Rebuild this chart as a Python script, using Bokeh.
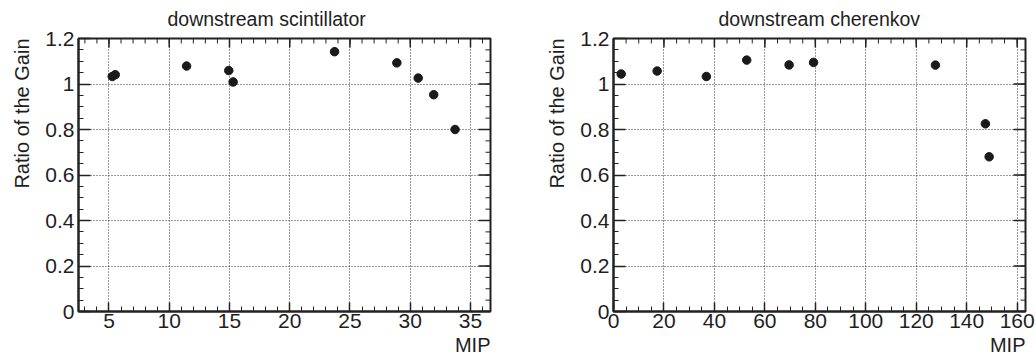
import math
from bokeh.plotting import figure
from bokeh.layouts import row
from bokeh.models import Range1d, FixedTicker, Title, CustomJSTickFormatter
from bokeh.embed import file_html
from bokeh.resources import INLINE

# ---- data ----
scint_mip = [5.27, 5.52, 11.44, 14.94, 15.30, 23.72, 28.89, 30.66, 31.95, 33.72]
scint_ratio = [1.033, 1.041, 1.079, 1.059, 1.009, 1.142, 1.093, 1.026, 0.953, 0.800]

cher_mip = [3.05, 17.3, 36.8, 52.8, 69.6, 79.3, 127.6, 147.4, 148.9]
cher_ratio = [1.044, 1.057, 1.033, 1.105, 1.084, 1.095, 1.083, 0.825, 0.680]

titles = ["downstream scintillator", "downstream cherenkov"]
x_label = "MIP"
y_label = "Ratio of the Gain"

y_ticks = [0, 0.2, 0.4, 0.6, 0.8, 1, 1.2]
y_minor = [i * 0.05 for i in range(25)]
scint_xticks = [5, 10, 15, 20, 25, 30, 35]
scint_xminor = list(range(3, 37))
cher_xticks = [0, 20, 40, 60, 80, 100, 120, 140, 160]
cher_xminor = list(range(0, 165, 5))

FONT = "Liberation Sans"
TXT = "#1e1e1e"
LINE = "#222222"

fmt_code = "return String(Math.round(tick*100)/100);"


def make_panel(xs, ys, xr, xticks, xminor, title, width, bl, br, title_off):
    yr = (0, 1.2)
    p = figure(width=width, height=364, x_range=Range1d(*xr), y_range=Range1d(*yr),
               output_backend="svg", toolbar_location=None,
               min_border_left=bl, min_border_right=br,
               min_border_top=38, min_border_bottom=53)
    p.background_fill_color = "white"
    p.border_fill_color = "white"
    p.outline_line_color = LINE
    p.outline_line_width = 2

    xt = FixedTicker(ticks=xticks, minor_ticks=xminor)
    yt = FixedTicker(ticks=y_ticks, minor_ticks=y_minor)

    for ax, tk, maj in ((p.xaxis[0], xt, 9), (p.yaxis[0], yt, 12)):
        ax.ticker = tk
        ax.formatter = CustomJSTickFormatter(code=fmt_code)
        ax.major_tick_in = maj
        ax.major_tick_out = 0
        ax.minor_tick_in = 5
        ax.minor_tick_out = 0
        ax.axis_line_width = 2
        ax.axis_line_color = LINE
        ax.major_tick_line_color = LINE
        ax.minor_tick_line_color = LINE
        ax.major_tick_line_width = 1.5
        ax.minor_tick_line_width = 1
        ax.major_label_text_font = FONT
        ax.major_label_text_font_size = "21px"
        ax.major_label_text_color = TXT
    p.xaxis[0].major_label_standoff = 2
    p.yaxis[0].major_label_standoff = 4

    for g in (p.xgrid[0], p.ygrid[0]):
        g.grid_line_color = "#333333"
        g.grid_line_dash = "1 2"
        g.grid_line_width = 1

    # mirrored ticks on top and right frame edges (outer half clipped by the frame)
    p.scatter(xticks, [yr[1]] * len(xticks), marker="dash", angle=math.pi / 2,
              size=18, line_color=LINE, line_width=1.5)
    p.scatter(xminor, [yr[1]] * len(xminor), marker="dash", angle=math.pi / 2,
              size=10, line_color=LINE, line_width=1)
    p.scatter([xr[1]] * len(y_ticks), y_ticks, marker="dash", angle=0,
              size=24, line_color=LINE, line_width=1.5)
    p.scatter([xr[1]] * len(y_minor), y_minor, marker="dash", angle=0,
              size=10, line_color=LINE, line_width=1)

    p.scatter(xs, ys, size=8.5, color="#1a1a1a", marker="circle")

    # titles
    p.title.text = title
    p.title.align = "left"
    p.title.offset = title_off
    p.title.text_font = FONT
    p.title.text_font_size = "19.5px"
    p.title.text_font_style = "normal"
    p.title.text_color = TXT
    p.title.vertical_align = "top"
    p.title.standoff = 14

    p.add_layout(Title(text=y_label, align="right", offset=0, text_font=FONT,
                       text_font_size="20px", text_font_style="normal",
                       text_color=TXT, vertical_align="top", standoff=16), "left")
    p.add_layout(Title(text=x_label, align="right", offset=0, text_font=FONT,
                       text_font_size="20px", text_font_style="normal",
                       text_color=TXT, vertical_align="top", standoff=7), "below")
    return p


p1 = make_panel(scint_mip, scint_ratio, (2.47, 36.66), scint_xticks, scint_xminor,
                titles[0], 518, 78, 28, 89)
p2 = make_panel(cher_mip, cher_ratio, (0, 163.3), cher_xticks, cher_xminor,
                titles[1], 518, 95, 11, 105)

layout = row(p1, p2)
open("out.html", "w").write(file_html(layout, INLINE))
